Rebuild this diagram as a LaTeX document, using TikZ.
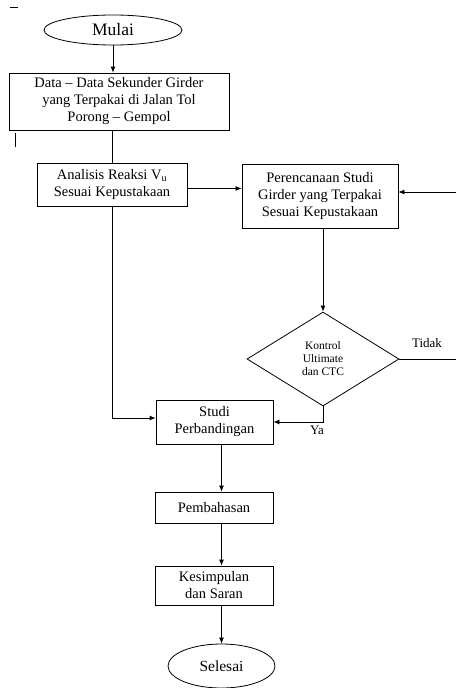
\documentclass[tikz,border=0pt]{standalone}
\usepackage{fontspec}
\setmainfont{Liberation Serif}
\usetikzlibrary{shapes.geometric,arrows.meta}
\begin{document}
\begin{tikzpicture}[x=1pt,y=-1pt,
  box/.style={draw,line width=0.8pt,align=center,inner sep=0pt,font=\fontsize{14.5}{17}\selectfont},
  term/.style={draw,ellipse,line width=0.8pt,inner sep=0pt,font=\fontsize{17.5}{19}\selectfont},
  dec/.style={draw,diamond,line width=0.8pt,inner sep=0pt,align=center,font=\fontsize{11.5}{13}\selectfont},
  lbl/.style={inner sep=0pt,font=\fontsize{13}{15}\selectfont},
  ln/.style={line width=0.8pt},
  arr/.style={line width=0.8pt,-{Latex[length=6pt,width=5pt]}}]
\useasboundingbox (0,0) rectangle (456,688);
% stray marks
\draw[ln] (10,7.5) -- (18,7.5);
\draw[ln] (15,133) -- (15,147);
% nodes
\node[term,minimum width=138pt,minimum height=30pt] (mulai) at (113,30) {Mulai};
\node[box,minimum width=220pt,minimum height=57pt] (data) at (119,101.5) {Data – Data Sekunder Girder\\yang Terpakai di Jalan Tol\\Porong – Gempol};
\node[box,minimum width=150pt,minimum height=43pt] (analisis) at (112,184.5) {Analisis Reaksi V\textsubscript{u}\\Sesuai Kepustakaan};
\node[box,minimum width=156pt,minimum height=64pt] (peren) at (320,196) {Perencanaan Studi\\Girder yang Terpakai\\Sesuai Kepustakaan};
\node[dec,minimum width=152pt,minimum height=94pt] (dia) at (323,359) {Kontrol\\Ultimate\\dan CTC};
\node[box,minimum width=117pt,minimum height=44pt] (studi) at (214.5,422) {Studi\\Perbandingan};
\node[box,minimum width=118pt,minimum height=31pt] (pemb) at (214,507.5) {Pembahasan};
\node[box,minimum width=118pt,minimum height=39pt] (kesim) at (214,585.5) {Kesimpulan\\dan Saran};
\node[term,minimum width=107pt,minimum height=44pt,font=\fontsize{15.5}{17}\selectfont] (selesai) at (221.5,666) {Selesai};
\node[lbl] (tidak) at (427,343) {Tidak};
\node[lbl] (ya) at (317,430) {Ya};
\coordinate (rin) at (456,192);
\coordinate (rout) at (456,359);
% connectors
\draw[arr] (mulai.south) -- (mulai.south|-data.north);
\draw[ln] (analisis.north|-data.south) -- (analisis.north);
\draw[arr] ([yshift=-4pt]analisis.east) -- ([yshift=-4pt]peren.west|-analisis.east);
\draw[arr] (rin) -- (rin-|peren.east);
\draw[arr] (dia.north|-peren.south) -- (dia.north);
\draw[ln] (dia.east) -- (rout);
\draw[arr] (dia.south) |- (studi.east);
\draw[arr] (analisis.south) |- ([yshift=4pt]studi.west);
\draw[arr] (selesai.north|-studi.south) -- (selesai.north|-pemb.north);
\draw[arr] (selesai.north|-pemb.south) -- (selesai.north|-kesim.north);
\draw[arr] (selesai.north|-kesim.south) -- (selesai.north);
\end{tikzpicture}
\end{document}
